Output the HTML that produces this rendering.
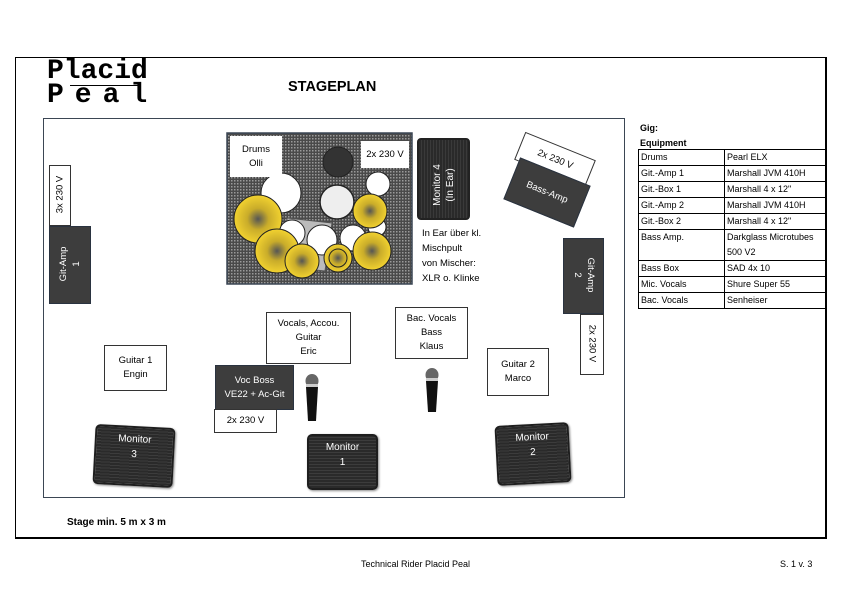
<!DOCTYPE html>
<html><head><meta charset="utf-8"><style>
*{margin:0;padding:0;box-sizing:border-box}
body{width:842px;height:595px;background:#fff;position:relative;overflow:hidden;font-family:"Liberation Sans",sans-serif;color:#000}
.a{position:absolute}
.box{position:absolute;border:1px solid #333;background:#fff;font-size:9.5px;text-align:center;display:flex;flex-direction:column;justify-content:center;line-height:14px}
.dark{position:absolute;background:#3d3d3d;border:1.5px solid #2a3340;color:#fff;font-size:9.5px;text-align:center;display:flex;flex-direction:column;justify-content:center;line-height:14px}
table{border-collapse:collapse;font-size:9px}
td{border:1px solid #000;height:15px;padding:0 2px;line-height:15px;vertical-align:top}
.mon{position:absolute;background:repeating-linear-gradient(0deg,#2a2a2a 0 2px,#3c3c3c 2px 3px);border-radius:5px;border:2px solid #1e1e1e;color:#fff;font-size:10px;text-align:center;line-height:15px;padding-top:4px;box-shadow:1px 1px 2px #888}
</style></head><body>
<div class="a" style="left:15px;top:57px;width:812px;height:482px;border:1.5px solid #000;border-bottom-width:2.5px;border-right-width:2px"></div>
<div class="a" style="left:47px;top:60px;font-family:'Liberation Mono',monospace;font-weight:bold;font-size:28px;line-height:24px">Placid<br><span style="letter-spacing:11px">Peal</span></div>
<div class="a" style="left:70px;top:85px;width:70px;height:1px;background:#000"></div>
<div class="a" style="left:288px;top:79px;font-weight:bold;font-size:14.5px">STAGEPLAN</div>
<div class="a" style="left:43px;top:118px;width:582px;height:380px;border:1.5px solid #3b4654"></div>

<svg class="a" style="left:0;top:0" width="842" height="595">
<defs>
<pattern id="p" width="3" height="3" patternUnits="userSpaceOnUse"><rect width="3" height="3" fill="#4a4a4a"/><rect width="1.5" height="1.5" fill="#9a9a9a"/></pattern>
<radialGradient id="y"><stop offset="0" stop-color="#555"/><stop offset="0.45" stop-color="#c9ac2a"/><stop offset="1" stop-color="#f2d230"/></radialGradient>
</defs>
<rect x="227" y="133" width="185" height="151" fill="url(#p)" stroke="#3b4654" stroke-width="1.5"/>
<g stroke="#222" stroke-width="1">
<circle cx="338" cy="162" r="15" fill="#333"/>
<circle cx="281" cy="193" r="20" fill="#fff"/>
<circle cx="337" cy="202" r="17" fill="#eee" stroke-width="1.5"/>
<circle cx="378" cy="184" r="12" fill="#fff"/>
<polygon points="287,218 332,223 325,271 285,267" fill="#bbb" stroke="#555"/>
<circle cx="292" cy="233" r="13" fill="#fff"/>
<circle cx="322" cy="240" r="15" fill="#fff"/>
<circle cx="353" cy="238" r="13" fill="#fff"/>
<circle cx="377" cy="227" r="9" fill="#fff"/>
<circle cx="258" cy="219" r="24" fill="url(#y)"/>
<circle cx="370" cy="211" r="17" fill="url(#y)"/>
<circle cx="277" cy="251" r="22" fill="url(#y)"/>
<circle cx="302" cy="261" r="17" fill="url(#y)"/>
<circle cx="338" cy="258" r="14" fill="url(#y)"/>
<circle cx="338" cy="258" r="9" fill="none"/>
<circle cx="372" cy="251" r="19" fill="url(#y)"/>
</g>
<g>
<ellipse cx="312" cy="381" rx="6.5" ry="7" fill="#666"/>
<rect x="306" y="384" width="12" height="3" fill="#ccc"/>
<path d="M306 387 L318 387 L316 421 L308 421 Z" fill="#111"/>
<ellipse cx="432" cy="375" rx="6.5" ry="7" fill="#666"/>
<rect x="426" y="378" width="12" height="3" fill="#ccc"/>
<path d="M426 381 L438 381 L436 412 L428 412 Z" fill="#111"/>
</g>
</svg>

<div class="box" style="left:230px;top:136px;width:52px;height:41px;border:none">Drums<br>Olli</div>
<div class="box" style="left:361px;top:141px;width:48px;height:27px;border:none">2x 230 V</div>
<div class="a" style="left:417px;top:138px;width:53px;height:82px;background:repeating-linear-gradient(90deg,#2a2a2a 0 2px,#3a3a3a 2px 3px);border-radius:4px;border:2px solid #222"></div>
<div class="a" style="left:403px;top:172px;width:82px;color:#fff;font-size:10px;line-height:13px;text-align:center;transform:rotate(-90deg)">Monitor 4<br>(In Ear)</div>
<div class="a" style="left:422px;top:226px;font-size:9.5px;line-height:15px">In Ear über kl.<br>Mischpult<br>von Mischer:<br>XLR o. Klinke</div>

<div class="box" style="left:517px;top:145px;width:76px;height:30px;transform:rotate(22deg);border-color:#333">2x 230 V</div>
<div class="dark" style="left:509px;top:170px;width:76px;height:45px;transform:rotate(22deg)">Bass-Amp</div>

<div class="dark" style="left:563px;top:238px;width:41px;height:76px"></div>
<div class="a" style="left:546px;top:262px;width:76px;color:#fff;font-size:9.5px;line-height:13px;text-align:center;transform:rotate(90deg)">Git-Amp<br>2</div>
<div class="box" style="left:580px;top:314px;width:24px;height:61px"></div>
<div class="a" style="left:562px;top:338px;width:60px;font-size:9.5px;text-align:center;transform:rotate(90deg)">2x 230 V</div>

<div class="box" style="left:49px;top:165px;width:22px;height:61px"></div>
<div class="a" style="left:30px;top:189px;width:60px;font-size:9.5px;text-align:center;transform:rotate(-90deg)">3x 230 V</div>
<div class="dark" style="left:49px;top:226px;width:42px;height:78px"></div>
<div class="a" style="left:32px;top:251px;width:76px;color:#fff;font-size:9.5px;line-height:13px;text-align:center;transform:rotate(-90deg)">Git-Amp<br>1</div>

<div class="box" style="left:266px;top:312px;width:85px;height:52px">Vocals, Accou.<br>Guitar<br>Eric</div>
<div class="box" style="left:395px;top:307px;width:73px;height:52px">Bac. Vocals<br>Bass<br>Klaus</div>
<div class="box" style="left:104px;top:345px;width:63px;height:46px">Guitar 1<br>Engin</div>
<div class="box" style="left:487px;top:348px;width:62px;height:48px">Guitar 2<br>Marco</div>
<div class="dark" style="left:215px;top:365px;width:79px;height:45px">Voc Boss<br>VE22 + Ac-Git</div>
<div class="box" style="left:214px;top:409px;width:63px;height:24px">2x 230 V</div>

<div class="mon" style="left:94px;top:426px;width:80px;height:60px;transform:rotate(3deg)">Monitor<br>3</div>
<div class="mon" style="left:307px;top:434px;width:71px;height:56px">Monitor<br>1</div>
<div class="mon" style="left:496px;top:424px;width:74px;height:60px;transform:rotate(-3deg)">Monitor<br>2</div>

<div class="a" style="left:640px;top:121px;font-size:9px;font-weight:bold;line-height:15px">Gig:<br>Equipment</div>
<table class="a" style="left:638px;top:149px;width:189px">
<tr><td style="width:86px">Drums</td><td>Pearl ELX</td></tr>
<tr><td>Git.-Amp 1</td><td>Marshall JVM 410H</td></tr>
<tr><td>Git.-Box 1</td><td>Marshall 4 x 12"</td></tr>
<tr><td>Git.-Amp 2</td><td>Marshall JVM 410H</td></tr>
<tr><td>Git.-Box 2</td><td>Marshall 4 x 12"</td></tr>
<tr><td>Bass Amp.</td><td>Darkglass Microtubes<br>500 V2</td></tr>
<tr><td>Bass Box</td><td>SAD 4x 10</td></tr>
<tr><td>Mic. Vocals</td><td>Shure Super 55</td></tr>
<tr><td>Bac. Vocals</td><td>Senheiser</td></tr>
</table>

<div class="a" style="left:67px;top:517px;font-size:10px;font-weight:bold">Stage min. 5 m x 3 m</div>
<div class="a" style="left:361px;top:559px;font-size:9px">Technical Rider Placid Peal</div>
<div class="a" style="left:780px;top:559px;font-size:9px">S. 1 v. 3</div>
</body></html>
